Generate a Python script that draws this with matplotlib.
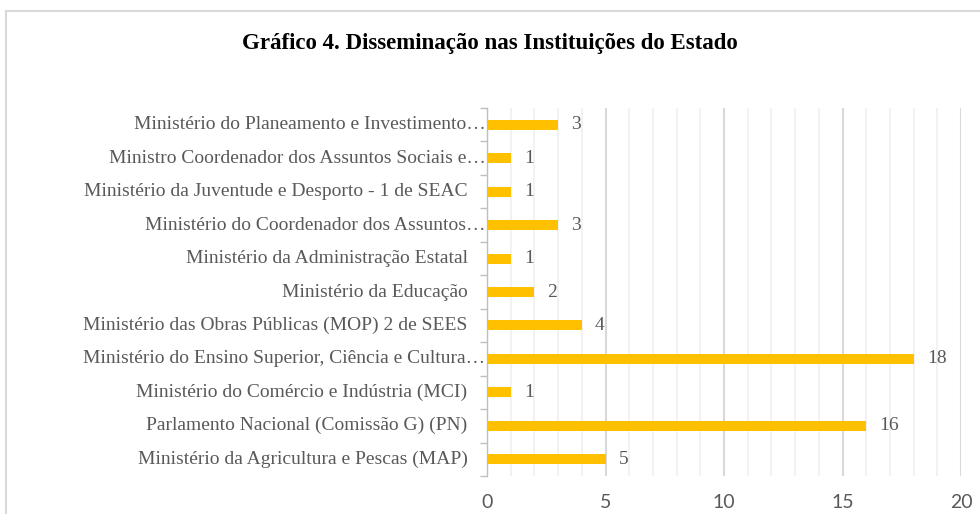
import matplotlib.pyplot as plt
import numpy as np
from matplotlib.patches import Rectangle
from matplotlib.ticker import MultipleLocator, FixedLocator

# categorias (de baixo para cima, como no grafico)
instituicoes = [
    "Ministério da Agricultura e Pescas (MAP)",
    "Parlamento Nacional (Comissão G) (PN)",
    "Ministério do Comércio e Indústria (MCI)",
    "Ministério do Ensino Superior, Ciência e Cultura…",
    "Ministério das Obras Públicas (MOP) 2 de SEES",
    "Ministério da Educação",
    "Ministério da Administração Estatal",
    "Ministério do Coordenador dos Assuntos…",
    "Ministério da Juventude e Desporto - 1 de SEAC",
    "Ministro Coordenador dos Assuntos Sociais e…",
    "Ministério do Planeamento e Investimento…",
]
valores = [5, 16, 1, 18, 4, 2, 1, 3, 1, 1, 3]
xticks = [0, 5, 10, 15, 20]

serif = ["Liberation Serif", "DejaVu Serif"]
cinza = "#595959"

fig = plt.figure(figsize=(9.8, 5.14), dpi=100)
fig.patches.append(Rectangle((6 / 980, -0.1), 1.2, 1 - 11 / 514 + 0.1,
                             transform=fig.transFigure, fill=False,
                             edgecolor="#d9d9d9", linewidth=1.5))

ax = fig.add_axes([487 / 980, 1 - 476 / 514, (961 - 487) / 980, (476 - 108) / 514])
y = np.arange(len(instituicoes))
ax.barh(y, valores, height=0.3, color="#ffc000", zorder=3)

for yi, v in zip(y, valores):
    ax.annotate(str(v), (v, yi), xytext=(9.5, 0), textcoords="offset points",
                va="center", ha="left", fontsize=14, color=cinza, family=serif)

# rotulos das categorias (os cortados com "…" chegam ate o eixo)
for yi, nome in zip(y, instituicoes):
    recuo = 1 if nome.endswith("…") else 14
    ax.annotate(nome, (0, yi), xycoords=ax.get_yaxis_transform(),
                xytext=(-recuo, 0), textcoords="offset points",
                va="center", ha="right", fontsize=14, color=cinza, family=serif)

ax.set_xlim(0, 20)
ax.set_ylim(-0.5, len(instituicoes) - 0.5)
ax.xaxis.set_major_locator(FixedLocator(xticks))
ax.xaxis.set_minor_locator(MultipleLocator(1))
ax.grid(axis="x", which="major", color="#d9d9d9", linewidth=1.5, zorder=0)
ax.grid(axis="x", which="minor", color="#f0f0f0", linewidth=1.2, zorder=0)

ax.set_yticks(y)
ax.set_yticklabels([])
ax.yaxis.set_minor_locator(FixedLocator(np.arange(-0.5, len(instituicoes), 1)))
ax.tick_params(axis="y", which="major", length=0)
ax.tick_params(axis="y", which="minor", length=5, color="#bfbfbf", width=1)
ax.tick_params(axis="x", which="both", length=0, pad=13, labelsize=14,
               labelcolor=cinza)
for lbl in ax.get_xticklabels():
    lbl.set_family(["Lato", "DejaVu Sans"])

for s in ["top", "right", "bottom"]:
    ax.spines[s].set_visible(False)
ax.spines["left"].set_color("#bfbfbf")
ax.spines["left"].set_linewidth(1)

fig.text(0.5, 1 - 43 / 514, "Gráfico 4. Disseminação nas Instituições do Estado",
         ha="center", va="center", fontsize=16.5, fontweight="bold",
         color="black", family=serif)

fig.savefig("out.png", dpi=100)
